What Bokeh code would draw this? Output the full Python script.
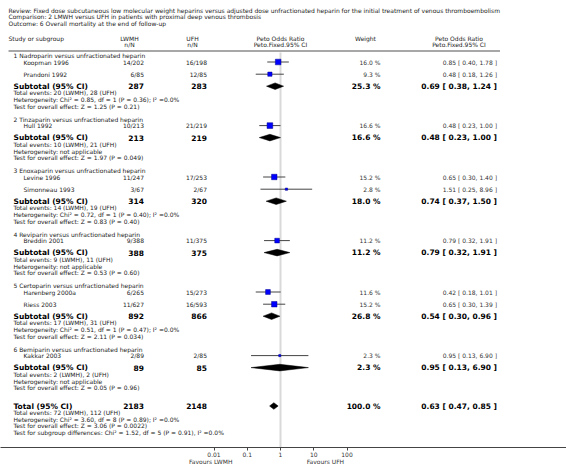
import math
from bokeh.plotting import figure
from bokeh.models import (Range1d, LogScale, LogAxis, FixedTicker,
                          CustomJSTickFormatter, ColumnDataSource)
from bokeh.core.properties import value
from bokeh.embed import file_html
from bokeh.resources import INLINE

# ------------------------------------------------------------------ data
title_lines = [
    "Review:  Fixed dose subcutaneous low molecular weight heparins versus adjusted dose unfractionated heparin for the initial treatment of venous thromboembolism",
    "Comparison:  2 LMWH versus UFH in patients with proximal deep venous thrombosis",
    "Outcome:  6 Overall mortality at the end of follow-up",
]
arm_names = ["LWMH", "UFH"]
favours_labels = ["Favours LWMH", "Favours UFH"]
axis_ticks = [0.01, 0.1, 1, 10, 100]

group_names = [
    "1 Nadroparin versus unfractionated heparin",
    "2 Tinzaparin versus unfractionated heparin",
    "3 Enoxaparin versus unfractionated heparin",
    "4 Reviparin versus unfractionated heparin",
    "5 Certoparin versus unfractionated heparin",
    "6 Bemiparin versus unfractionated heparin",
]
study_names = ["Koopman 1996", "Prandoni 1992", "Hull 1992", "Levine 1996",
               "Simonneau 1993", "Breddin 2001", "Harenberg 2000a",
               "Riess 2003", "Kakkar 2003"]
study_group = [0, 0, 1, 2, 2, 3, 4, 4, 5]
lwmh_events = [14, 6, 10, 11, 3, 9, 6, 11, 2]
lwmh_total = [202, 85, 213, 247, 67, 388, 265, 627, 89]
ufh_events = [16, 12, 21, 17, 2, 11, 15, 16, 2]
ufh_total = [198, 85, 219, 253, 67, 375, 273, 593, 85]
study_weight = [16.0, 9.3, 16.6, 15.2, 2.8, 11.2, 11.6, 15.2, 2.3]
study_or = [0.85, 0.48, 0.48, 0.65, 1.51, 0.79, 0.42, 0.65, 0.95]
study_lo = [0.40, 0.18, 0.23, 0.30, 0.25, 0.32, 0.18, 0.30, 0.13]
study_hi = [1.78, 1.26, 1.00, 1.40, 8.96, 1.91, 1.01, 1.39, 6.90]

sub_weight = [25.3, 16.6, 18.0, 11.2, 26.8, 2.3]
sub_or = [0.69, 0.48, 0.74, 0.79, 0.54, 0.95]
sub_lo = [0.38, 0.23, 0.37, 0.32, 0.30, 0.13]
sub_hi = [1.24, 1.00, 1.50, 1.91, 0.96, 6.90]
sub_chi2 = [0.85, None, 0.72, None, 0.51, None]
sub_df = [1, None, 1, None, 1, None]
sub_het_p = [0.36, None, 0.40, None, 0.47, None]
sub_i2 = [0.0, None, 0.0, None, 0.0, None]
sub_z = [1.25, 1.97, 0.83, 0.53, 2.11, 0.05]
sub_p = ["0.21", "0.049", "0.40", "0.60", "0.034", "0.96"]

total_weight = 100.0
total_or, total_lo, total_hi = 0.63, 0.47, 0.85
total_chi2, total_df, total_het_p, total_i2 = 3.60, 8, 0.89, 0.0
total_z, total_p = 3.06, "0.0022"
subgroup_chi2, subgroup_df, subgroup_p, subgroup_i2 = 1.52, 5, 0.91, 0.0

# ------------------------------------------------------------------ layout
W, FH = 566, 447
NULL_X, PX_DEC = 280, 33.25
X_LEFT, X_GROUP, X_STUDY = 8, 13, 23
X_LWMH, X_UFH, X_W, X_OR = 143.5, 206.5, 380, 496.5
H_LWMH, H_UFH, H_PLOT, H_W, H_OR = 129, 192, 280, 365, 458.5

FONT = value("DejaVu Sans")
texts = {}


def put(x, y, s, align="left", bold=False, color="#222"):
    d = texts.setdefault((align, bold, color), {"x": [], "y": [], "t": []})
    d["x"].append(x)
    d["y"].append(y)
    d["t"].append(s)


def ci_text(e, l, h):
    return f"{e:.2f} [ {l:.2f}, {h:.2f} ]"


sq = {"x": [], "y": [], "s": []}
ci = {"x0": [], "x1": [], "y": []}
dia = {"xs": [], "ys": []}
DH = 3.3


def diamond(e, l, h, y):
    dia["xs"].append([l, e, h, e])
    dia["ys"].append([y, y - DH, y, y + DH])


# header
for k, line in enumerate(title_lines):
    put(X_LEFT, 10 + 6.3 * k, line)
put(X_LEFT, 37.5, "Study or subgroup")
put(H_LWMH, 37.5, arm_names[0], "center")
put(H_UFH, 37.5, arm_names[1], "center")
put(H_LWMH, 44, "n/N", "center")
put(H_UFH, 44, "n/N", "center")
put(H_PLOT, 37.5, "Peto Odds Ratio", "center")
put(H_PLOT, 44, "Peto.Fixed.95% CI", "center")
put(H_W, 37.5, "Weight", "center")
put(H_OR, 37.5, "Peto Odds Ratio", "center")
put(H_OR, 44, "Peto.Fixed.95% CI", "center")
RULE_Y = 50.5


def het_text(chi2, df, p, i2, sep=";"):
    if chi2 is None:
        return "Heterogeneity: not applicable"
    return f"Heterogeneity: Chi\u00b2 = {chi2:.2f}, df = {df} (P = {p:.2f}){sep} I\u00b2 ={i2:.1f}%"


y = 55
for g, gname in enumerate(group_names):
    put(X_GROUP, y, gname)
    idx = [i for i, sg in enumerate(study_group) if sg == g]
    y += 6.5
    for k, i in enumerate(idx):
        if k > 0:
            y += 12.2
        put(X_STUDY, y, study_names[i])
        put(X_LWMH, y, f"{lwmh_events[i]}/{lwmh_total[i]}", "right")
        put(X_UFH, y, f"{ufh_events[i]}/{ufh_total[i]}", "right")
        put(X_W, y, f"{study_weight[i]:.1f} %", "right", color="#333")
        put(X_OR, y, ci_text(study_or[i], study_lo[i], study_hi[i]), "right", color="#333")
        ci["x0"].append(study_lo[i]); ci["x1"].append(study_hi[i]); ci["y"].append(y)
        sq["x"].append(study_or[i]); sq["y"].append(y)
        sq["s"].append(1.4 * math.sqrt(study_weight[i]))
    y += 12
    put(X_GROUP, y, "Subtotal (95% CI)", bold=True, color="#000")
    put(X_LWMH, y, str(sum(lwmh_total[i] for i in idx)), "right", True, "#000")
    put(X_UFH, y, str(sum(ufh_total[i] for i in idx)), "right", True, "#000")
    put(X_W, y, f"{sub_weight[g]:.1f} %", "right", True, "#000")
    put(X_OR, y, ci_text(sub_or[g], sub_lo[g], sub_hi[g]), "right", True, "#000")
    diamond(sub_or[g], sub_lo[g], sub_hi[g], y)
    y += 6.7
    el = sum(lwmh_events[i] for i in idx)
    eu = sum(ufh_events[i] for i in idx)
    put(X_GROUP, y, f"Total events: {el} ({arm_names[0]}), {eu} ({arm_names[1]})")
    y += 6.7
    put(X_GROUP, y, het_text(sub_chi2[g], sub_df[g], sub_het_p[g], sub_i2[g]))
    y += 6.5
    put(X_GROUP, y, f"Test for overall effect: Z = {sub_z[g]:.2f} (P = {sub_p[g]})")
    y += 13

y += 5.5
put(X_GROUP, y, "Total (95% CI)", bold=True, color="#000")
put(X_LWMH, y, str(sum(lwmh_total)), "right", True, "#000")
put(X_UFH, y, str(sum(ufh_total)), "right", True, "#000")
put(X_W, y, f"{total_weight:.1f} %", "right", True, "#000")
put(X_OR, y, ci_text(total_or, total_lo, total_hi), "right", True, "#000")
diamond(total_or, total_lo, total_hi, y)
y += 6.7
put(X_GROUP, y, f"Total events: {sum(lwmh_events)} ({arm_names[0]}), {sum(ufh_events)} ({arm_names[1]})")
y += 6.5
put(X_GROUP, y, het_text(total_chi2, total_df, total_het_p, total_i2))
y += 6.3
put(X_GROUP, y, f"Test for overall effect: Z = {total_z:.2f} (P = {total_p})")
y += 7.3
put(X_GROUP, y, f"Test for subgroup differences: Chi\u00b2 = {subgroup_chi2:.2f}, df = {subgroup_df} (P = {subgroup_p:.2f}), I\u00b2 ={subgroup_i2:.1f}%")

# ------------------------------------------------------------------ figure
p = figure(frame_width=W, frame_height=FH,
           x_range=Range1d(0, W), y_range=Range1d(FH, 0),
           x_axis_type=None, y_axis_type=None,
           output_backend="svg", toolbar_location=None, min_border=0)
p.outline_line_color = None
p.background_fill_color = "white"
p.border_fill_color = "white"

or_lo_edge = 10 ** ((0 - NULL_X) / PX_DEC)
or_hi_edge = 10 ** ((W - NULL_X) / PX_DEC)
p.extra_x_ranges = {"or": Range1d(or_lo_edge, or_hi_edge)}
p.extra_x_scales = {"or": LogScale()}

# null line
p.segment(x0=[1], x1=[1], y0=[RULE_Y + 1.5], y1=[FH], x_range_name="or",
          line_color="#d9d9d9", line_width=2)
# header rule
p.segment(x0=[X_LEFT], x1=[X_OR + 3], y0=[RULE_Y], y1=[RULE_Y],
          line_color="#8a8a8a", line_width=1.5)

p.segment(x0="x0", x1="x1", y0="y", y1="y", source=ColumnDataSource(ci),
          x_range_name="or", line_color="#444", line_width=1)
p.scatter(x="x", y="y", size="s", marker="square", source=ColumnDataSource(sq),
          x_range_name="or", fill_color="#0000ff", line_color="#00008b", line_width=0.5)
p.patches(xs="xs", ys="ys", source=ColumnDataSource(dia), x_range_name="or",
          fill_color="#000", line_color="#000", line_width=0.5)

for (align, bold, color), d in texts.items():
    p.text(x="x", y="y", text="t", source=ColumnDataSource(d),
           text_align=align, text_baseline="middle", text_font=FONT,
           text_font_size=value("7.5px" if bold else "6px"),
           text_font_style="bold" if bold else "normal", text_color=color)

ax = LogAxis(x_range_name="or", ticker=FixedTicker(ticks=axis_ticks),
             formatter=CustomJSTickFormatter(code="return tick.toString()"))
ax.axis_line_color = "#444"
ax.major_tick_line_color = "#444"
ax.major_tick_in = 0
ax.major_tick_out = 3
ax.minor_tick_line_color = None
ax.major_label_standoff = 1
ax.major_label_text_font = "DejaVu Sans"
ax.major_label_text_font_size = "6px"
ax.major_label_text_color = "#333"
p.add_layout(ax, "below")

fav_pos = [10 ** -2.1, 10 ** 1.35]
ax2 = LogAxis(x_range_name="or", ticker=FixedTicker(ticks=fav_pos),
              formatter=CustomJSTickFormatter(args=dict(labels=favours_labels),
                                              code="return tick < 1 ? labels[0] : labels[1]"))
ax2.axis_line_color = None
ax2.major_tick_line_color = None
ax2.major_tick_in = 0
ax2.major_tick_out = 0
ax2.minor_tick_line_color = None
ax2.major_label_standoff = -2
ax2.major_label_text_font = "DejaVu Sans"
ax2.major_label_text_font_size = "6px"
ax2.major_label_text_color = "#333"
p.add_layout(ax2, "below")

open("out.html", "w").write(file_html(p, INLINE))
